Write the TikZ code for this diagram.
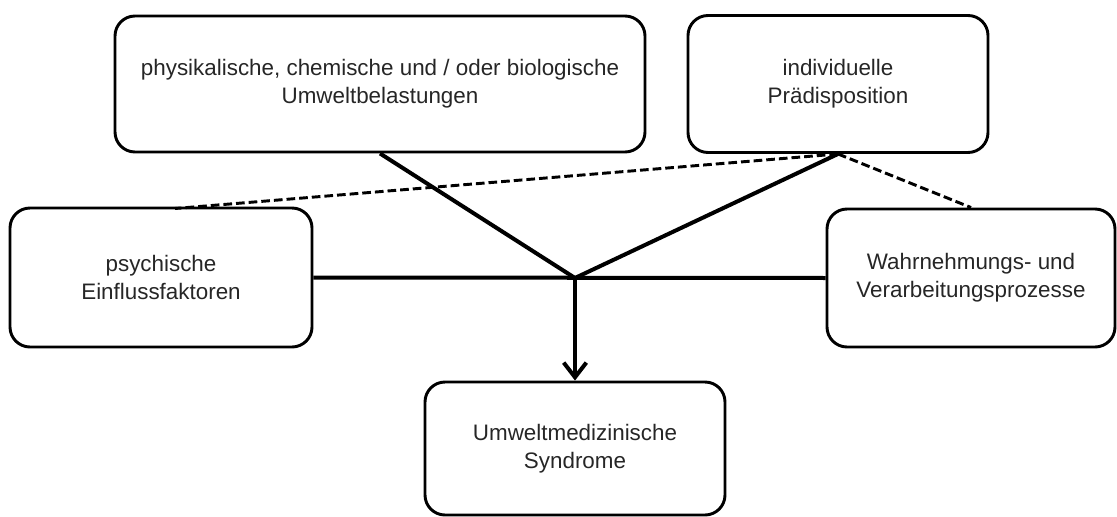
\documentclass[tikz,border=0pt]{standalone}
\usepackage{fontspec}
\setmainfont{Liberation Sans}
\usetikzlibrary{arrows.meta}
\begin{document}
\begin{tikzpicture}[x=0.75pt,y=-0.75pt,
  box/.style={draw, line width=2.2pt, rounded corners=15pt, align=center,
    inner sep=0pt, font=\fontsize{16.8}{20.8}\selectfont, text=black!85},
  link/.style={line width=3pt},
  dashlink/.style={line width=2.2pt, dash pattern=on 6.5pt off 3pt},
  arrowlink/.style={line width=3pt, -{Straight Barb[length=11pt,width=17pt]}}
]
\useasboundingbox (0,0) rectangle (1117,517);
\node[box, minimum width=397.5pt, minimum height=102pt] (A) at (380,84)
  {physikalische, chemische und / oder biologische\\Umweltbelastungen};
\node[box, minimum width=225pt, minimum height=102.75pt] (B) at (838,84)
  {individuelle\\Prädisposition};
\node[box, minimum width=226.5pt, minimum height=104.25pt] (C) at (161,277.5)
  {psychische\\Einflussfaktoren};
\node[box, minimum width=216pt, minimum height=103.5pt] (D) at (971,278)
  {Wahrnehmungs- und\\Verarbeitungsprozesse};
\node[box, minimum width=225pt, minimum height=99.75pt] (E) at (575,448.5)
  {Umweltmedizinische\\Syndrome};
\coordinate (J) at (575,278);
\coordinate (Ctop) at (175,208.5);
\draw[link] (C.east) -- (D.west);
\draw[link] (A.south) -- (J);
\draw[link] (B.south) -- (J);
\draw[arrowlink] (J) -- (E.north);
\draw[dashlink] (B.south) -- (Ctop);
\draw[dashlink] (B.south) -- (D.north);
\end{tikzpicture}
\end{document}
